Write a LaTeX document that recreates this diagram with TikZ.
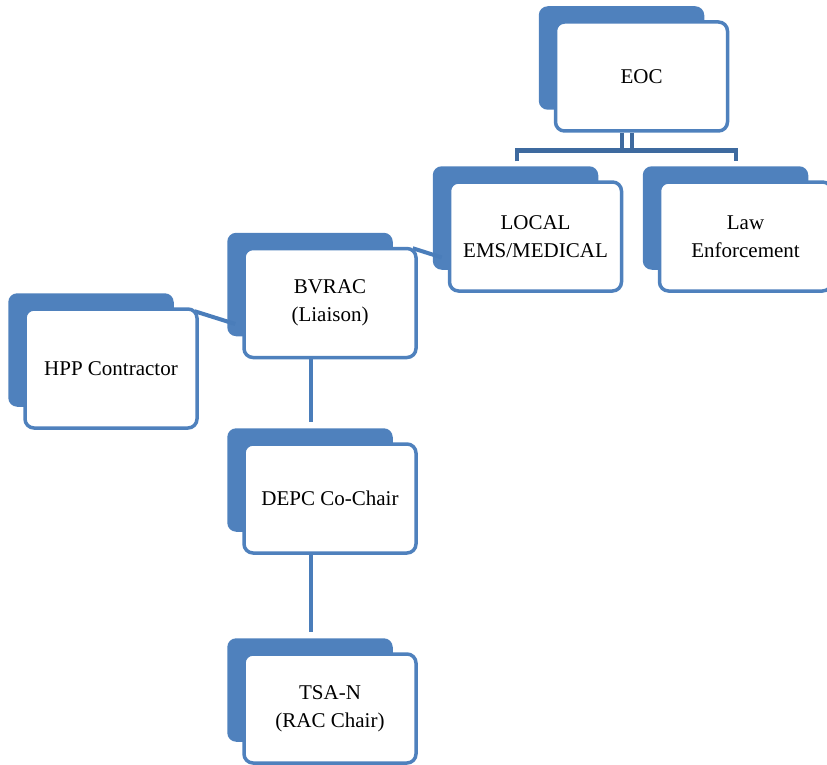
\documentclass[tikz,border=0pt]{standalone}
\usepackage{fontspec}
\setmainfont{Liberation Serif}
\usepackage{xcolor}
\usetikzlibrary{calc,positioning}
\definecolor{boxblue}{HTML}{4F81BD}
\definecolor{linkblue}{HTML}{4A7DBA}
\definecolor{darkblue}{HTML}{3E6A9F}
\pgfdeclarelayer{background}
\pgfsetlayers{background,main}

\tikzset{
  orgbox/.style={draw=boxblue, line width=3.5, fill=white, rounded corners=9,
    minimum width=172, minimum height=109, align=center, inner sep=2,
    font=\fontsize{21}{28}\selectfont},
  link/.style={draw=linkblue, line width=4},
}

\begin{document}
\begin{tikzpicture}[x=1pt,y=-1pt]

\useasboundingbox (0,0) rectangle (827,765);

\node[orgbox] (eoc)   at (641.5,76.5) {EOC};
\node[orgbox] (local) at (535.5,236.5) {LOCAL\\EMS/MEDICAL};
\node[orgbox] (law)   at (745.5,236.5) {Law\\Enforcement};
\node[orgbox] (bvrac) at (330,303) {BVRAC\\(Liaison)};
\node[orgbox, minimum height=119] (hpp) at (111,368.5) {HPP Contractor};
\node[orgbox] (depc)  at (330,498.5) {DEPC Co-Chair};
\node[orgbox] (tsa)   at (330,708.5) {TSA-N\\(RAC Chair)};

\coordinate (bus) at (0,150.5);
\coordinate (spine) at (311,0);
\coordinate (eocl) at ($(eoc.south)+(-19.5,0)$);
\coordinate (eocr) at ($(eoc.south)+(-9.5,0)$);

\begin{pgfonlayer}{background}
    % shadows
    \foreach \n in {eoc,local,law,bvrac,hpp,depc,tsa}
        \path[fill=boxblue, rounded corners=9] ($(\n.north west)+(-15,-14)$) rectangle ($(\n.south east)+(-25,-23)$);
    % eoc branches
    \draw[darkblue, line width=4] (eocl) -- (eocl |- bus);
    \draw[darkblue, line width=4] (eocr) -- (eocr |- bus);
    \draw[darkblue, line width=4] ($(local.north)+(-18.5,-19)$) |- (bus -| eoc.south) -| ($(law.north)+(-9.5,-19)$);
    % side links
    \draw[link] ($(hpp.north east)+(-4,4)$) -- ($(bvrac.west)+(-7,21)$);
    \draw[link] ($(bvrac.north east)+(-5,1.5)$) -- ($(local.west)+(-6,21)$);
    % vertical links
    \draw[link] (bvrac.south -| spine) -- ($(depc.north -| spine)+(0,-20)$);
    \draw[link] (depc.south -| spine) -- ($(tsa.north -| spine)+(0,-20)$);
\end{pgfonlayer}

\end{tikzpicture}
\end{document}
